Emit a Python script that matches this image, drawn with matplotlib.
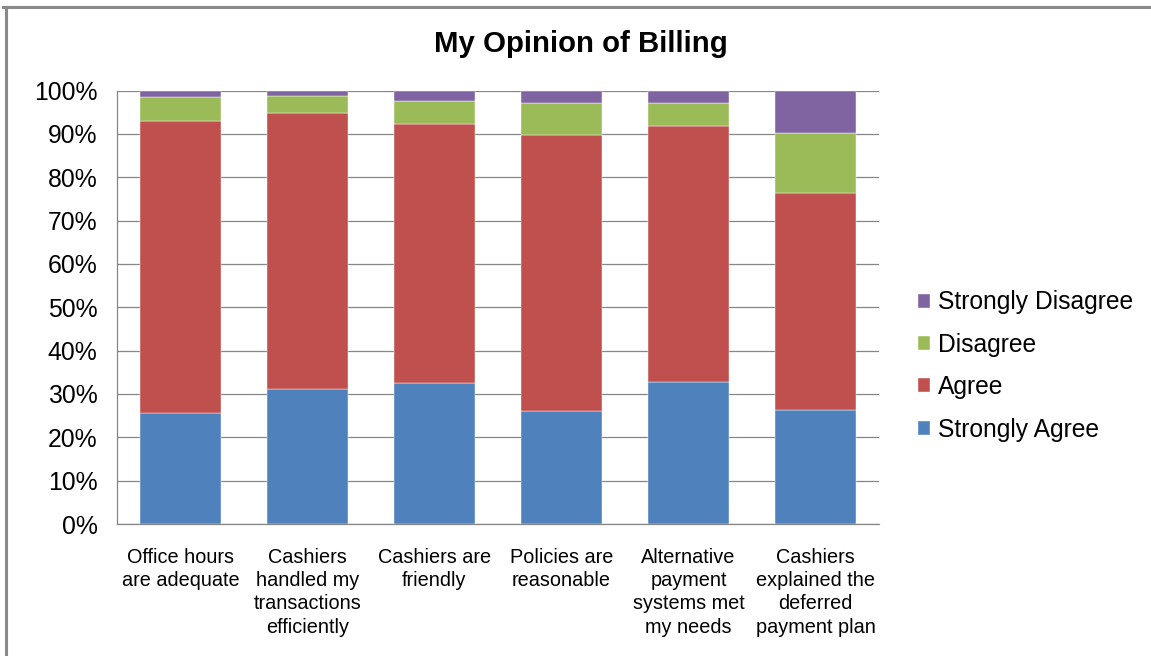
import numpy as np
import matplotlib.pyplot as plt
from matplotlib.lines import Line2D

plt.rcParams['font.family'] = ['Liberation Sans', 'DejaVu Sans']

# Survey data (percent of responses)
categories = ['Office hours\nare adequate',
              'Cashiers\nhandled my\ntransactions\nefficiently',
              'Cashiers are\nfriendly',
              'Policies are\nreasonable',
              'Alternative\npayment\nsystems met\nmy needs',
              'Cashiers\nexplained the\ndeferred\npayment plan']
strongly_agree = [25.5, 31.2, 32.5, 26.0, 32.8, 26.3]
agree = [67.5, 63.6, 59.7, 63.7, 58.9, 50.1]
disagree = [5.4, 3.9, 5.4, 7.5, 5.5, 13.9]
strongly_disagree = [1.6, 1.3, 2.4, 2.8, 2.8, 9.7]

series = [('Strongly Agree', strongly_agree, '#4F81BD'),
          ('Agree', agree, '#C0504D'),
          ('Disagree', disagree, '#9BBB59'),
          ('Strongly Disagree', strongly_disagree, '#8064A2')]

fig = plt.figure(figsize=(11.51, 6.56), dpi=100)
ax = fig.add_axes([117 / 1151, 1 - 524 / 656, 762 / 1151, 433.5 / 656])

x = np.arange(len(categories))
bottom = np.zeros(len(categories))
handles = []
for name, vals, color in series:
    vals = np.array(vals)
    b = ax.bar(x, vals, 0.64, bottom=bottom, color=color, label=name,
               edgecolor='white', linewidth=0.3, zorder=3)
    handles.append(b)
    bottom += vals

ax.set_xlim(-0.5, len(categories) - 0.5)
ax.set_ylim(0, 100)
ax.set_yticks(np.arange(0, 101, 10))
ax.set_yticklabels([f'{v}%' for v in range(0, 101, 10)], fontsize=17.8)
ax.set_xticks(x)
ax.set_xticklabels(categories, fontsize=14.3, linespacing=1.29)
ax.tick_params(axis='y', length=0, pad=14)
ax.tick_params(axis='x', length=0, pad=17)
ax.yaxis.grid(True, color='#868686', linewidth=0.9, zorder=0)
ax.set_axisbelow(True)
for side in ['top', 'right']:
    ax.spines[side].set_visible(False)
for side in ['left', 'bottom']:
    ax.spines[side].set_color('#868686')
    ax.spines[side].set_linewidth(0.9)

fig.text(581 / 1151, 1 - 44 / 656, 'My Opinion of Billing', ha='center',
         va='center', fontsize=21.2, fontweight='bold')

ax.legend(handles[::-1], [s[0] for s in series][::-1], frameon=False,
          loc='center left', bbox_to_anchor=(918 / 1151, 1 - 366 / 656),
          bbox_transform=fig.transFigure, fontsize=17.7, borderpad=0,
          borderaxespad=0, handlelength=0.5, handleheight=0.5,
          handletextpad=0.3, labelspacing=0.75)

# outer chart border (top and left edges visible)
fig.add_artist(Line2D([3 / 1151, 1], [1 - 7 / 656, 1 - 7 / 656],
                      color='#8a8a8a', linewidth=2.2, transform=fig.transFigure))
fig.add_artist(Line2D([6 / 1151, 6 / 1151], [0, 1 - 7 / 656],
                      color='#8a8a8a', linewidth=2.2, transform=fig.transFigure))

fig.savefig('out.png', dpi=100)
